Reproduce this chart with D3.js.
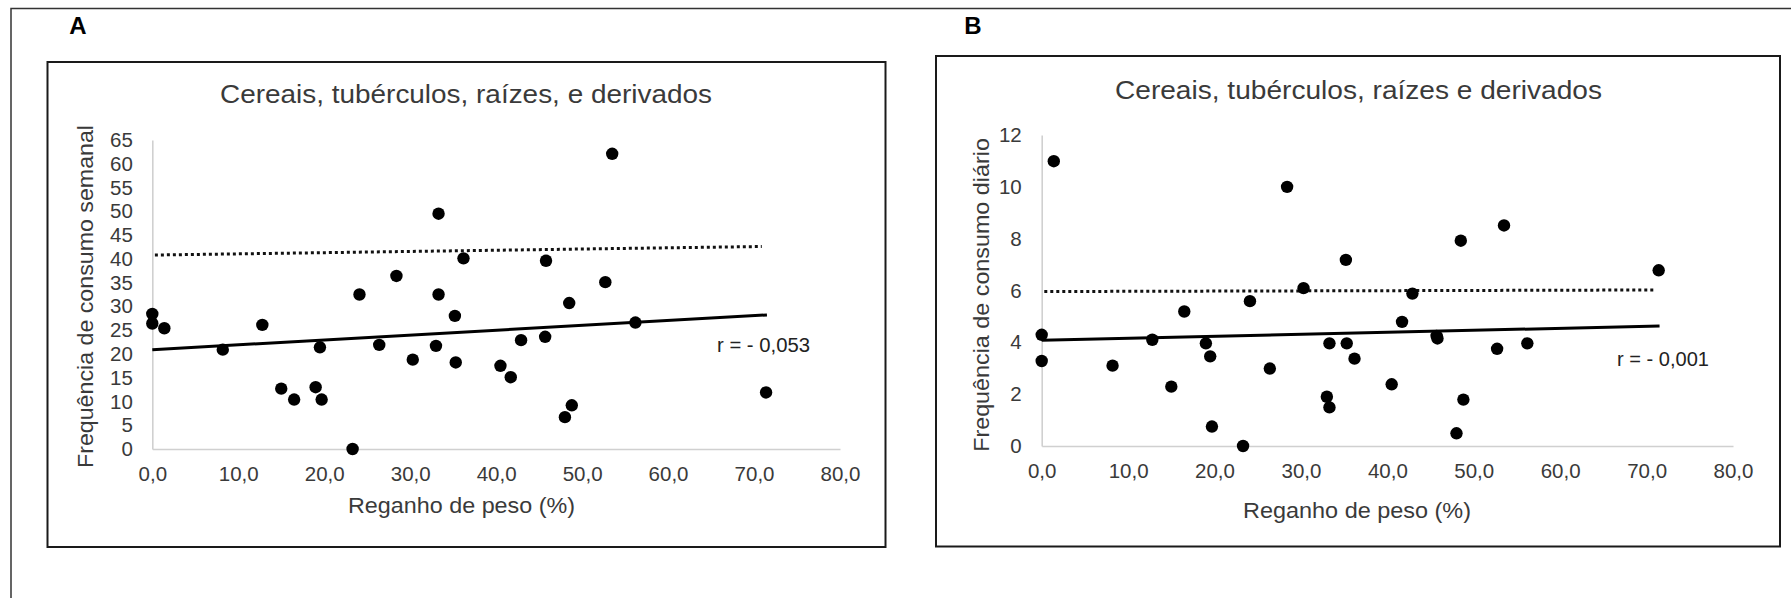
<!DOCTYPE html>
<html>
<head>
<meta charset="utf-8">
<script src="https://cdn.jsdelivr.net/npm/d3@7"></script>
<style>
  html, body { margin: 0; padding: 0; background: #fff; }
  svg { display: block; }
  text { font-family: "Liberation Sans", Arial, sans-serif; }
</style>
</head>
<body>
<svg id="chart" width="1791" height="598"></svg>
<script>
// ---------------- DATA ----------------
const panelLetters = ["A", "B"];
const chartTitles = ["Cereais, tubérculos, raízes, e derivados", "Cereais, tubérculos, raízes e derivados"];
const yAxisTitles = ["Frequência de consumo semanal", "Frequência de consumo diário"];
const xAxisTitle = "Reganho de peso (%)";
const corrLabels = ["r = - 0,053", "r = - 0,001"];

// weight regain (%) – shared by both panels
const regain = [0.0, 0.0, 1.4, 8.2, 12.8, 15.0, 16.5, 19.0, 19.5, 19.7, 23.3, 24.1, 26.4, 28.4, 30.3, 33.0, 33.3,
                33.3, 35.2, 35.3, 36.2, 40.5, 41.7, 42.9, 45.7, 45.8, 48.0, 48.5, 48.8, 52.7, 53.5, 56.2, 71.4];
// Panel A: weekly consumption frequency
const weekly = [28.4, 26.4, 25.4, 20.9, 26.1, 12.7, 10.4, 13.0, 21.4, 10.4, 0.0, 32.5, 21.9, 36.4, 18.8, 21.7, 49.5,
                32.5, 28.0, 18.2, 40.1, 17.5, 15.1, 22.9, 23.6, 39.6, 6.7, 30.7, 9.2, 35.1, 62.1, 26.6, 11.9];
// Panel B: daily consumption frequency
const daily = [4.29, 3.28, 10.99, 3.10, 4.10, 2.29, 5.19, 3.96, 3.46, 0.75, 0.0, 5.59, 2.99, 10.0, 6.09, 1.90, 3.96,
               1.49, 7.18, 3.96, 3.37, 2.38, 4.79, 5.88, 4.25, 4.15, 0.49, 7.92, 1.79, 3.75, 8.51, 3.96, 6.78];

// trend lines (solid = linear fit, dotted = reference)
const trendA = [[0, 20.9], [71.5, 28.2]];
const refA = [[0.3, 40.8], [70.9, 42.6]];
const trendB = [[0, 4.08], [71.5, 4.63]];
const refB = [[0.3, 5.96], [71.0, 6.02]];

// axis ticks
const xTicks = [0, 10, 20, 30, 40, 50, 60, 70, 80];
const yTicksA = [0, 5, 10, 15, 20, 25, 30, 35, 40, 45, 50, 55, 60, 65];
const yTicksB = [0, 2, 4, 6, 8, 10, 12];

// ---------------- LAYOUT ----------------
const svg = d3.select("#chart");
const TXT = "#3a3a3a";
const fmtX = v => d3.format(".1f")(v).replace(".", ",");

// outer frame (top & left visible)
svg.append("rect").attr("x", 11).attr("y", 8.5).attr("width", 1800).attr("height", 620)
  .attr("fill", "none").attr("stroke", "#333").attr("stroke-width", 1.5);

const panels = [
  { letter: panelLetters[0], letterX: 78,
    box: [47.5, 62, 838, 485],
    title: chartTitles[0], titleX: 220, titleY: 103, titleLen: 492,
    yTitle: yAxisTitles[0], yTitleX: 92.5, yTitleCY: 296.5, yTitleLen: 343,
    xTitleX: 348, xTitleY: 513, xTitleLen: 227,
    xRange: [152.3, 840], yRange: [449, 140], yMax: 65, yTicks: yTicksA,
    ys: weekly, trend: trendA, ref: refA,
    corr: corrLabels[0], corrX: 717, corrY: 352, corrLen: 93,
    xPad: 17, yPad: 19.5 },
  { letter: panelLetters[1], letterX: 973,
    box: [936, 56, 844, 490.5],
    title: chartTitles[1], titleX: 1115, titleY: 99, titleLen: 487,
    yTitle: yAxisTitles[1], yTitleX: 988.5, yTitleCY: 295, yTitleLen: 313.7,
    xTitleX: 1243, xTitleY: 518, xTitleLen: 228,
    xRange: [1041.7, 1733], yRange: [446, 135], yMax: 12, yTicks: yTicksB,
    ys: daily, trend: trendB, ref: refB,
    corr: corrLabels[1], corrX: 1617, corrY: 366, corrLen: 92,
    xPad: 17.5, yPad: 20 }
];

panels.forEach(p => {
  // panel letter
  svg.append("text").attr("x", p.letterX).attr("y", 34).attr("text-anchor", "middle")
    .attr("font-size", 24).attr("font-weight", "bold").attr("fill", "#000").text(p.letter);

  // chart box
  svg.append("rect").attr("x", p.box[0]).attr("y", p.box[1]).attr("width", p.box[2]).attr("height", p.box[3])
    .attr("fill", "#fff").attr("stroke", "#1a1a1a").attr("stroke-width", 2);

  // title
  svg.append("text").attr("x", p.titleX).attr("y", p.titleY).attr("font-size", 25.5).attr("fill", TXT)
    .attr("textLength", p.titleLen).attr("lengthAdjust", "spacingAndGlyphs").text(p.title);

  const x = d3.scaleLinear().domain([0, 80]).range(p.xRange);
  const y = d3.scaleLinear().domain([0, p.yMax]).range(p.yRange);

  // axes
  const gx = svg.append("g").attr("transform", `translate(0,${p.yRange[0]})`)
    .call(d3.axisBottom(x).tickValues(xTicks).tickFormat(fmtX).tickSize(0).tickSizeOuter(0).tickPadding(p.xPad));
  const gy = svg.append("g").attr("transform", `translate(${p.xRange[0]},0)`)
    .call(d3.axisLeft(y).tickValues(p.yTicks).tickFormat(d3.format("d")).tickSize(0).tickSizeOuter(0).tickPadding(p.yPad));
  [gx, gy].forEach(g => {
    g.select(".domain").attr("stroke", "#d0d0d0").attr("stroke-width", 1.6);
    g.selectAll("text").attr("font-size", 20.5).attr("fill", TXT)
      .style("font-family", '"Liberation Sans", Arial, sans-serif');
  });

  // axis titles
  svg.append("text").attr("x", p.xTitleX).attr("y", p.xTitleY).attr("font-size", 22).attr("fill", TXT)
    .attr("textLength", p.xTitleLen).attr("lengthAdjust", "spacingAndGlyphs").text(xAxisTitle);
  svg.append("text")
    .attr("transform", `translate(${p.yTitleX},${p.yTitleCY}) rotate(-90)`)
    .attr("x", -p.yTitleLen / 2).attr("y", 0)
    .attr("font-size", 22).attr("fill", TXT)
    .attr("textLength", p.yTitleLen).attr("lengthAdjust", "spacingAndGlyphs").text(p.yTitle);

  // reference dotted line
  const line = d3.line().x(d => x(d[0])).y(d => y(d[1]));
  svg.append("path").attr("d", line(p.ref)).attr("fill", "none").attr("stroke", "#111")
    .attr("stroke-width", 3).attr("stroke-dasharray", "3,3");
  // linear trend
  svg.append("path").attr("d", line(p.trend)).attr("fill", "none").attr("stroke", "#000")
    .attr("stroke-width", 3);

  // points
  svg.append("g").selectAll("circle").data(regain.map((v, i) => [v, p.ys[i]])).join("circle")
    .attr("cx", d => x(d[0])).attr("cy", d => y(d[1])).attr("r", 6.2).attr("fill", "#000");

  // correlation label
  svg.append("text").attr("x", p.corrX).attr("y", p.corrY).attr("font-size", 20).attr("fill", "#222")
    .attr("textLength", p.corrLen).attr("lengthAdjust", "spacingAndGlyphs").text(p.corr);
});
</script>
</body>
</html>
